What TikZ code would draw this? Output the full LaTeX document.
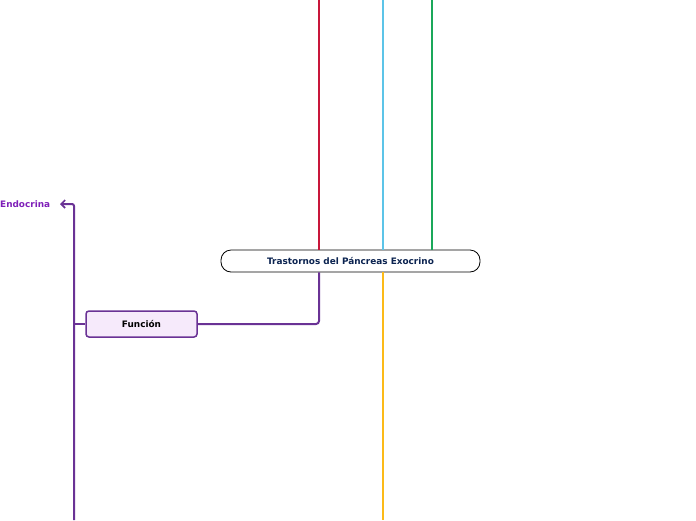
\documentclass[tikz,border=0pt]{standalone}
\usepackage{fontspec}
\setmainfont{DejaVu Sans}
\usetikzlibrary{arrows.meta}
\definecolor{cred}{HTML}{C8163A}
\definecolor{ccyan}{HTML}{5CC4E8}
\definecolor{cgreen}{HTML}{1AA85A}
\definecolor{corange}{HTML}{FCBA18}
\definecolor{cpurple}{HTML}{6A3295}
\definecolor{cendo}{HTML}{7E1FB8}
\definecolor{cnavy}{HTML}{0B2350}
\definecolor{clav}{HTML}{F6EAFB}
\tikzset{
  conn/.style={line width=2pt},
  mainbox/.style={draw=black, fill=white, line width=0.8pt, rounded corners=10pt,
    minimum width=259pt, minimum height=22pt, inner sep=0pt,
    font=\fontsize{8.9}{10}\selectfont\bfseries, text=cnavy},
  subbox/.style={draw=cpurple, fill=clav, line width=1.5pt, rounded corners=3pt,
    minimum width=111pt, minimum height=26pt, inner sep=0pt,
    font=\fontsize{8.9}{10}\selectfont\bfseries, text=black},
  leaf/.style={font=\fontsize{8.9}{10}\selectfont\bfseries, text=cendo, inner sep=0pt, anchor=west}
}
\begin{document}
\begin{tikzpicture}[x=1pt,y=-1pt]
\useasboundingbox (0,0) rectangle (696,520);
\coordinate (rtop) at (319,0);
\coordinate (ctop) at (383,0);
\coordinate (gtop) at (432,0);
\coordinate (obot) at (383,520);
\coordinate (pbot) at (74,520);
\coordinate (pbr) at (74,324);
\coordinate (ptop) at (74,204);
\node[mainbox] (main) at (350.5,261) {Trastornos del Páncreas Exocrino};
\node[subbox] (fun) at (141.5,324) {Función};
\node[leaf] (endo) at (0,204) {Endocrina};
\draw[conn, cred] (rtop) -- (rtop |- main.north);
\draw[conn, ccyan] (ctop) -- (ctop |- main.north);
\draw[conn, cgreen] (gtop) -- (gtop |- main.north);
\draw[conn, corange] (obot |- main.south) -- (obot);
\draw[conn, cpurple, rounded corners=3pt] (rtop |- main.south) -- (319,324) -- (fun.east);
\draw[conn, cpurple, rounded corners=2pt, -{Straight Barb[length=4pt,width=8pt,line width=1.6pt]}] (pbot) -- (ptop) -- (60,204);
\draw[conn, cpurple] (pbr) -- (fun.west);
\end{tikzpicture}
\end{document}
